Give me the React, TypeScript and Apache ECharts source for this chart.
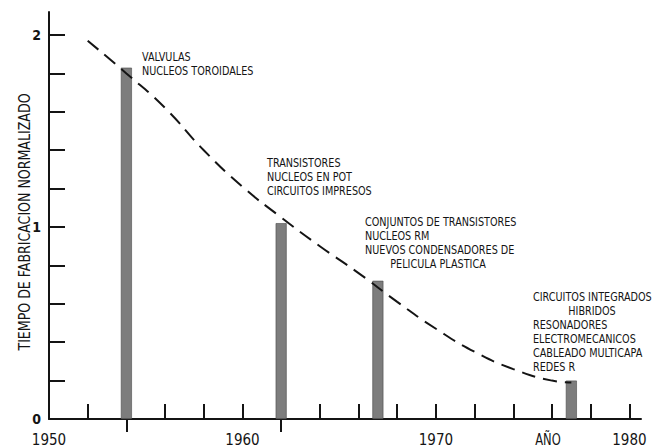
import React, { useEffect, useRef } from "react";
import * as echarts from "echarts";

// ---- data ----
const barYears = [1954, 1962, 1967, 1977];
const barValues = [1.83, 1.02, 0.72, 0.2];

const curveYears = [1952, 1954, 1956, 1958, 1960, 1962, 1964, 1966, 1968, 1970, 1972, 1974, 1976, 1977];
const curveValues = [1.97, 1.8, 1.62, 1.4, 1.21, 1.05, 0.9, 0.76, 0.61, 0.47, 0.35, 0.26, 0.2, 0.19];

const xTickUp = [1952, 1956, 1958, 1960, 1964, 1966, 1968, 1970, 1972, 1974, 1976, 1978, 1980];
const xTickDown = [1954, 1962];
const xLabelYears = [1950, 1960, 1970, 1980];
const yTickValues = [0.2, 0.4, 0.6, 0.8, 1.0, 1.2, 1.4, 1.6, 1.8, 2.0];
const yLabelValues = [0, 1, 2];

const yTitle = "TIEMPO DE FABRICACION NORMALIZADO";
const xUnit = "AÑO";

const note1 = ["VALVULAS", "NUCLEOS TOROIDALES"];
const note2 = ["TRANSISTORES", "NUCLEOS EN POT", "CIRCUITOS IMPRESOS"];
const note3 = ["CONJUNTOS DE TRANSISTORES", "NUCLEOS RM", "NUEVOS CONDENSADORES DE"];
const note3c = "PELICULA PLASTICA";
const note4a = "CIRCUITOS INTEGRADOS";
const note4c = "HIBRIDOS";
const note4 = ["RESONADORES", "ELECTROMECANICOS", "CABLEADO MULTICAPA", "REDES R"];

const FONT = "'DejaVu Sans Condensed', 'Liberation Sans Narrow', sans-serif";
const INK = "#141414";

function textEl(text: string, x: number, y: number, align: string, size = 12, sx = 0.895) {
  return {
    type: "text",
    x,
    y,
    scaleX: sx,
    silent: true,
    style: {
      text,
      fill: INK,
      font: `${size}px ${FONT}`,
      align,
      verticalAlign: "middle",
    },
  };
}

export default function App() {
  const ref = useRef<HTMLDivElement>(null);
  useEffect(() => {
    if (!ref.current) return;
    const chart = echarts.init(ref.current, null, { renderer: "svg" });
    const LH = 14;
    const graphics: any[] = [];
    note1.forEach((t, i) => graphics.push(textEl(t, 142, 57 + i * LH, "left")));
    note2.forEach((t, i) => graphics.push(textEl(t, 267, 163 + i * LH, "left")));
    note3.forEach((t, i) => graphics.push(textEl(t, 365, 222 + i * 13.8, "left")));
    graphics.push(textEl(note3c, 438, 222 + 3 * 13.8, "center"));
    graphics.push(textEl(note4a, 533, 297, "left"));
    graphics.push(textEl(note4c, 592, 311, "center"));
    note4.forEach((t, i) => graphics.push(textEl(t, 533, 325 + i * LH, "left")));
    graphics.push(textEl(xUnit, 548, 439, "center", 16, 0.8));
    graphics.push({
      type: "text",
      x: 25,
      y: 222,
      rotation: Math.PI / 2,
      scaleY: 1.15,
      silent: true,
      style: {
        text: yTitle,
        fill: INK,
        font: `14px ${FONT}`,
        align: "center",
        verticalAlign: "middle",
      },
    });

    chart.setOption({
      animation: false,
      backgroundColor: "#ffffff",
      grid: { left: 49, right: 20, top: 12, bottom: 28, containLabel: false },
      xAxis: [
        {
          type: "value",
          min: 1950,
          max: 1980.6,
          position: "bottom",
          axisLine: { show: true, lineStyle: { color: INK, width: 2 } },
          axisTick: {
            show: true,
            inside: true,
            length: 15,
            customValues: xTickUp,
            lineStyle: { color: INK, width: 2 },
          },
          axisLabel: {
            show: true,
            customValues: xLabelYears,
            margin: 13,
            color: INK,
            fontSize: 15,
            fontFamily: FONT,
            formatter: (v: number) => String(v),
          },
          splitLine: { show: false },
        },
        {
          type: "value",
          min: 1950,
          max: 1980.6,
          position: "bottom",
          axisLine: { show: false },
          axisTick: {
            show: true,
            inside: false,
            length: 13,
            customValues: xTickDown,
            lineStyle: { color: INK, width: 2 },
          },
          axisLabel: { show: false },
          splitLine: { show: false },
        },
      ],
      yAxis: {
        type: "value",
        min: 0,
        max: 2.12,
        axisLine: { show: true, lineStyle: { color: INK, width: 2 } },
        axisTick: {
          show: true,
          inside: true,
          length: 16,
          customValues: yTickValues,
          lineStyle: { color: INK, width: 2 },
        },
        axisLabel: {
          show: true,
          customValues: yLabelValues,
          margin: 8,
          color: INK,
          fontSize: 14,
          fontWeight: "bold",
          fontFamily: FONT,
          formatter: (v: number) => String(v),
        },
        splitLine: { show: false },
      },
      series: [
        {
          type: "bar",
          xAxisIndex: 0,
          barWidth: 11,
          data: barYears.map((y, i) => [y, barValues[i]]),
          itemStyle: { color: "#7d7d7d", borderColor: "#4a4a4a", borderWidth: 0.6 },
          z: 2,
        },
        {
          type: "line",
          xAxisIndex: 0,
          smooth: true,
          symbol: "none",
          data: curveYears.map((y, i) => [y, curveValues[i]]),
          lineStyle: { color: INK, width: 2, type: [14, 8] },
          z: 3,
        },
      ],
      graphic: graphics,
    });
    return () => chart.dispose();
  }, []);
  return <div ref={ref} style={{ position: "fixed", left: 0, top: 0, width: 661, height: 447 }} />;
}
